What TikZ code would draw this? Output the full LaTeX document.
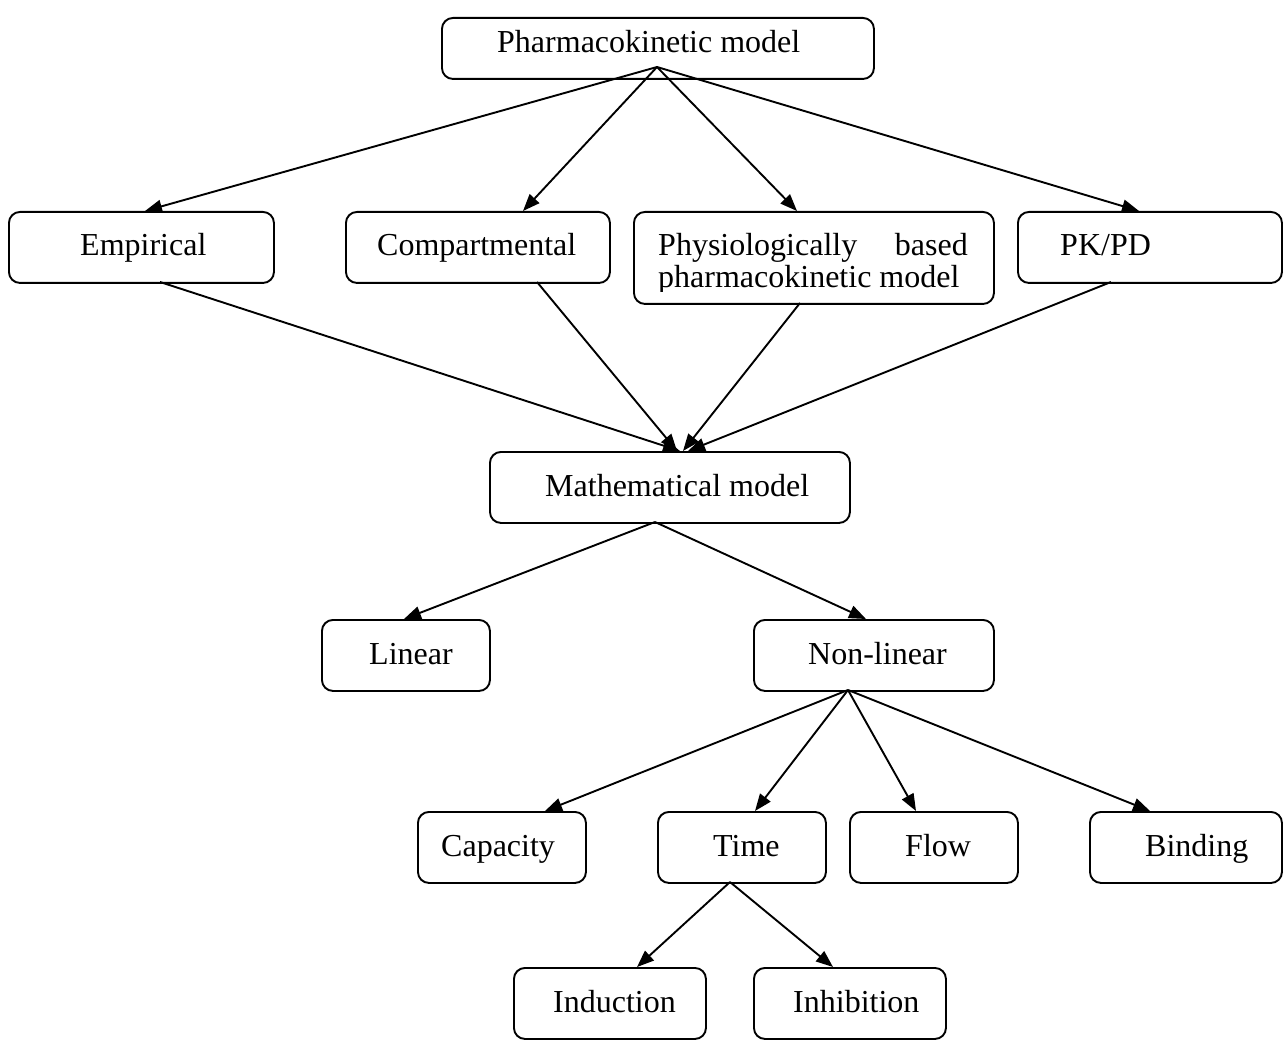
\documentclass[tikz,border=0pt]{standalone}
\usepackage{fontspec}
\setmainfont{Liberation Serif}
\usetikzlibrary{arrows.meta,calc}
\begin{document}
\begin{tikzpicture}[x=1pt,y=-1pt,
  box/.style={draw, line width=1.9pt, rounded corners=11pt, inner sep=0pt, anchor=north west},
  wbox/.style={box, minimum height=71pt},
  lbl/.style={anchor=base west, inner sep=0pt, font=\fontsize{32}{36}\selectfont},
  arr/.style={line width=1.9pt, -{Triangle[length=17pt,width=13pt]}}]
\useasboundingbox (0,0) rectangle (1284,1040);
% boxes
\node[box, minimum width=432pt, minimum height=61pt] (pk) at (441,17) {};
\node[wbox, minimum width=265pt] (emp) at (8,211) {};
\node[wbox, minimum width=264pt] (comp) at (345,211) {};
\node[box, minimum width=360pt, minimum height=92pt] (phys) at (633,211) {};
\node[wbox, minimum width=264pt] (pkpd) at (1017,211) {};
\node[wbox, minimum width=360pt] (math) at (489,451) {};
\node[wbox, minimum width=168pt] (lin) at (321,619) {};
\node[wbox, minimum width=240pt] (nl) at (753,619) {};
\node[wbox, minimum width=168pt] (cap) at (417,811) {};
\node[wbox, minimum width=168pt] (time) at (657,811) {};
\node[wbox, minimum width=168pt] (flow) at (849,811) {};
\node[wbox, minimum width=192pt] (bind) at (1089,811) {};
\node[wbox, minimum width=192pt] (ind) at (513,967) {};
\node[wbox, minimum width=192pt] (inh) at (753,967) {};
% labels
\node[lbl] (tpk) at (497,53) {Pharmacokinetic model};
\node[lbl] (temp) at (80,256) {Empirical};
\node[lbl] (tcomp) at (377,256) {Compartmental};
\node[lbl] (tphys1) at (658,256) {Physiologically};
\node[lbl, anchor=base east] (tphys2) at (968,256) {based};
\begin{scope}
\clip (640,260) rectangle (990,292);
\node[lbl] (tphys3) at (658,288) {pharmacokinetic model};
\end{scope}
\node[lbl] (tpkpd) at (1060,256) {PK/PD};
\node[lbl] (tmath) at (545,496) {Mathematical model};
\node[lbl] (tlin) at (369,664) {Linear};
\node[lbl] (tnl) at (808,664) {Non-linear};
\node[lbl] (tcap) at (441,856) {Capacity};
\node[lbl] (ttime) at (713,856) {Time};
\node[lbl] (tflow) at (905,856) {Flow};
\node[lbl] (tbind) at (1145,856) {Binding};
\node[lbl] (tind) at (553,1012) {Induction};
\node[lbl] (tinh) at (793,1012) {Inhibition};
% source coordinates
\coordinate (pksrc) at ($(pk.north west)+(216,50)$);
\coordinate (mathsrc) at ($(math.north west)+(166,71)$);
\coordinate (nlsrc) at ($(nl.north west)+(95,71)$);
\coordinate (timesrc) at ($(time.north west)+(73,71)$);
% arrows
\draw[arr] (pksrc) -- ($(emp.north west)+(137,0)$);
\draw[arr] (pksrc) -- ($(comp.north west)+(178,0)$);
\draw[arr] (pksrc) -- ($(phys.north west)+(164,0)$);
\draw[arr] (pksrc) -- ($(pkpd.north west)+(122,0)$);
\draw[arr] ($(emp.north west)+(152,71)$) -- ($(math.north west)+(191,0)$);
\draw[arr] ($(comp.north west)+(192,71)$) -- ($(math.north west)+(188,0)$);
\draw[arr] ($(phys.north west)+(167,92)$) -- ($(math.north west)+(194,0)$);
\draw[arr] ($(pkpd.north west)+(94,71)$) -- ($(math.north west)+(199,0)$);
\draw[arr] (mathsrc) -- ($(lin.north west)+(83,0)$);
\draw[arr] (mathsrc) -- ($(nl.north west)+(113,0)$);
\draw[arr] (nlsrc) -- ($(cap.north west)+(128,0)$);
\draw[arr] (nlsrc) -- ($(time.north west)+(98,0)$);
\draw[arr] (nlsrc) -- ($(flow.north west)+(67,0)$);
\draw[arr] (nlsrc) -- ($(bind.north west)+(61,0)$);
\draw[arr] (timesrc) -- ($(ind.north west)+(124,0)$);
\draw[arr] (timesrc) -- ($(inh.north west)+(80,0)$);
\end{tikzpicture}
\end{document}
